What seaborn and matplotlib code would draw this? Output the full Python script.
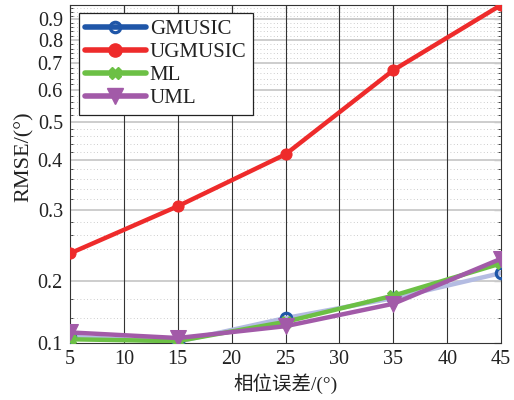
import numpy as np
import pandas as pd
import matplotlib
matplotlib.use("Agg")
import matplotlib.pyplot as plt
from matplotlib.lines import Line2D
import seaborn as sns

# ---- data ----
phase_err = [5, 15, 25, 35, 45]
gmusic = [0.110, 0.102, 0.140, 0.172, 0.209]
ugmusic = [0.234, 0.307, 0.414, 0.672, 0.978]
ml = [0.106, 0.103, 0.134, 0.176, 0.221]
uml = [0.117, 0.108, 0.127, 0.163, 0.227]
series_names = ["GMUSIC", "UGMUSIC", "ML", "UML"]
x_ticks = [5, 10, 15, 20, 25, 30, 35, 40, 45]
y_ticks = [0.1, 0.2, 0.3, 0.4, 0.5, 0.6, 0.7, 0.8, 0.9]
y_minor = [0.14, 0.17, 0.24, 0.26, 0.28, 0.32, 0.34, 0.36, 0.38,
           0.42, 0.44, 0.46, 0.48, 0.52, 0.54, 0.56, 0.58,
           0.62, 0.64, 0.66, 0.68, 0.72, 0.74, 0.76, 0.78,
           0.82, 0.84, 0.86, 0.88, 0.92, 0.94, 0.96]

sns.set_theme(style="white")
plt.rcParams['font.family'] = ['Liberation Serif', 'Noto Sans CJK SC', 'DejaVu Sans']
plt.rcParams['mathtext.fontset'] = 'stix'

fig = plt.figure(figsize=(5.14, 4.0), dpi=100)
ax = fig.add_axes([0.136, 0.1425, 0.839, 0.8455])

# piecewise axis: log above 0.2, compressed linear below
B = 0.2
D = 62.3 / 400.0


def fwd(v):
    v = np.asarray(v, dtype=float)
    lv = np.log10(np.maximum(v, 1e-9))
    lin = np.log10(B) - (B - v) / 0.1 * D
    return np.where(v >= B, lv, lin)


def inv(t):
    t = np.asarray(t, dtype=float)
    ex = np.power(10.0, np.minimum(t, 5))
    lin = B - (np.log10(B) - t) / D * 0.1
    return np.where(t >= np.log10(B), ex, lin)


ax.set_yscale('function', functions=(fwd, inv))

df = pd.DataFrame({"x": phase_err, "GMUSIC": gmusic, "UGMUSIC": ugmusic,
                   "ML": ml, "UML": uml})

lw = 3.2
c_gm_line = "#b4bce2"
c_gm = "#1f56a8"
c_ug = "#ee2b2b"
c_ml = "#6cc045"
c_um = "#a25aa8"

sns.lineplot(data=df, x="x", y="GMUSIC", ax=ax, color=c_gm_line, lw=lw,
             marker="o", markersize=7.5, markerfacecolor="none",
             markeredgecolor=c_gm, markeredgewidth=2.3, zorder=3)
sns.lineplot(data=df, x="x", y="UGMUSIC", ax=ax, color=c_ug, lw=lw,
             marker="o", markersize=8, markerfacecolor=c_ug,
             markeredgecolor=c_ug, zorder=4)
sns.lineplot(data=df, x="x", y="ML", ax=ax, color=c_ml, lw=lw,
             marker="X", markersize=8, markerfacecolor=c_ml,
             markeredgecolor=c_ml, zorder=4)
sns.lineplot(data=df, x="x", y="UML", ax=ax, color=c_um, lw=lw,
             marker="v", markersize=12, markerfacecolor=c_um,
             markeredgecolor=c_um, zorder=5)

ax.set_xlim(5, 45)
ax.set_ylim(0.1, 0.979)
ax.set_xticks(x_ticks)
ax.set_xticklabels([str(t) for t in x_ticks])
ax.set_yticks(y_ticks)
ax.set_yticklabels([f"{t:.1f}" for t in y_ticks])
ax.set_yticks(y_minor, minor=True)
ax.set_yticklabels([], minor=True)

ax.grid(False)
for t in y_ticks[1:]:
    ax.axhline(t, color="#cdcdcd", lw=1.4, zorder=1)
for t in y_minor:
    ax.axhline(t, color="#bdbdbd", lw=0.6, ls=(0, (1, 3)), zorder=1)
for t in x_ticks[1:-1]:
    ax.axvline(t, color="#333333", lw=0.8, zorder=1)

ax.tick_params(axis='both', which='major', direction='in', length=5,
               width=0.8, top=True, right=True, labelsize=14.5, pad=5,
               colors="#222222")
ax.tick_params(axis='y', which='minor', direction='in', length=2.5,
               width=0.6, right=True, left=True)
for s in ax.spines.values():
    s.set_color("#333333")
    s.set_linewidth(0.8)

ax.set_xlabel("相位误差/(°)", fontsize=14, color="#222222", labelpad=3)
ax.set_ylabel("RMSE/(°)", fontsize=16, color="#222222")
ax.yaxis.set_label_coords(-0.083, 0.551)

handles = [
    Line2D([], [], color=c_gm, lw=4, marker="o", markersize=7.5,
           markerfacecolor="none", markeredgecolor=c_gm, markeredgewidth=2.3),
    Line2D([], [], color=c_ug, lw=4, marker="o", markersize=9.5,
           markerfacecolor=c_ug, markeredgecolor=c_ug),
    Line2D([], [], color=c_ml, lw=4, marker="X", markersize=8,
           markerfacecolor=c_ml, markeredgecolor=c_ml),
    Line2D([], [], color=c_um, lw=4, marker="v", markersize=12,
           markerfacecolor=c_um, markeredgecolor=c_um),
]
leg = ax.legend(handles, series_names, loc="upper left",
                bbox_to_anchor=(0.021, 0.975), fontsize=15,
                handlelength=2.9, labelspacing=0.17, handletextpad=0.2,
                borderpad=0.3, fancybox=False, framealpha=1,
                edgecolor="#222222", borderaxespad=0.0)
leg.get_frame().set_linewidth(0.9)
for txt in leg.get_texts():
    txt.set_color("#222222")

fig.savefig("out.png", dpi=100)
